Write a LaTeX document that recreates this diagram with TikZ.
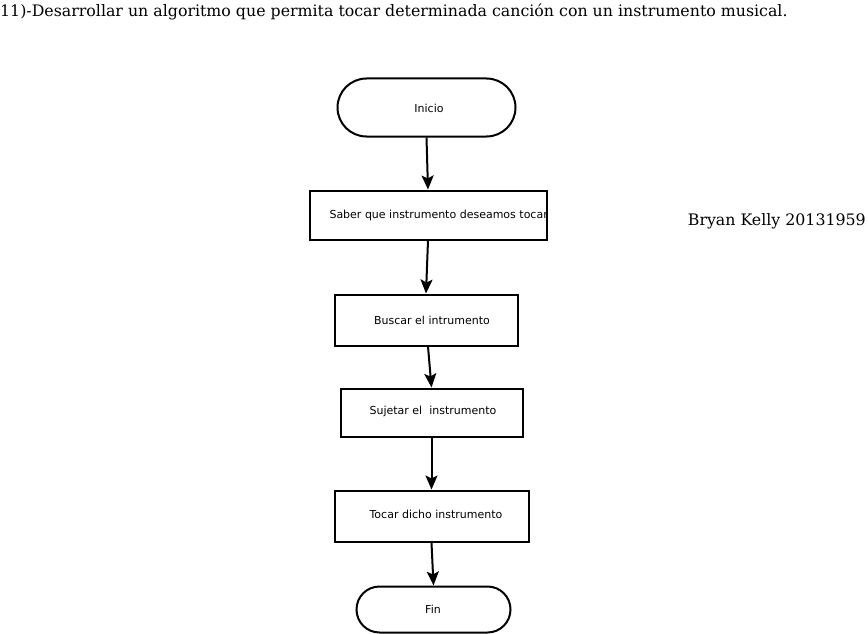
\documentclass[tikz,border=0pt]{standalone}
\usepackage{fontspec}
\setmainfont{DejaVu Serif}
\newfontfamily\boxfont{DejaVu Sans}
\usetikzlibrary{arrows.meta,shapes.misc}

\begin{document}
\begin{tikzpicture}[
        x=1pt, y=-1pt,
        terminal/.style={rounded rectangle, draw, line width=2pt, inner sep=0pt},
        stepbox/.style={rectangle, draw, line width=2pt, inner sep=0pt},
        boxtext/.style={font=\boxfont\fontsize{11}{13}\selectfont, inner sep=0pt},
        flow/.style={line width=2pt, -{Stealth[length=14pt,width=12pt,inset=3pt]}}
    ]
    \useasboundingbox (0,0) rectangle (868,634);

    % header texts
    \node[anchor=west, inner sep=0pt, font=\fontsize{15.8}{18}\selectfont] (title) at (0,12)
        {11)-Desarrollar un algoritmo que permita tocar determinada canción con un instrumento musical.};
    \node[anchor=east, inner sep=0pt, font=\fontsize{15.8}{18}\selectfont] (autor) at (866,221)
        {Bryan Kelly 20131959};

    % shapes of the flow chart
    \node[terminal, minimum width=178pt, minimum height=58pt] (inicio) at (426.5,107.5) {};
    \node[stepbox, minimum width=237pt, minimum height=49pt] (saber) at (428,215) {};
    \node[stepbox, minimum width=183pt, minimum height=51pt] (buscar) at (426,320) {};
    \node[stepbox, minimum width=182pt, minimum height=48pt] (sujetar) at (431.5,412.5) {};
    \node[stepbox, minimum width=194pt, minimum height=51pt] (tocar) at (431.5,516) {};
    \node[terminal, minimum width=154pt, minimum height=46pt] (fin) at (433.5,609.5) {};

    % texts inside
    \node[boxtext] (tinicio) at (429,108) {Inicio};
    \node[boxtext, anchor=east] (tsaber) at (548,215) {Saber que instrumento deseamos tocar};
    \node[boxtext] (tbuscar) at (432,320) {Buscar el intrumento};
    \node[boxtext] (tsujetar) at (433,411) {Sujetar el\ \ instrumento};
    \node[boxtext] (ttocar) at (436,514) {Tocar dicho instrumento};
    \node[boxtext] (tfin) at (433,609) {Fin};

    % connectors
    \draw[flow] (inicio.south) -- (saber.north);
    \draw[flow] (saber.south) -- (buscar.north);
    \draw[flow] (buscar.south) ++(2,0) -- (sujetar.north);
    \draw[flow] (sujetar.south) -- (tocar.north);
    \draw[flow] (tocar.south) -- (fin.north);
\end{tikzpicture}
\end{document}
